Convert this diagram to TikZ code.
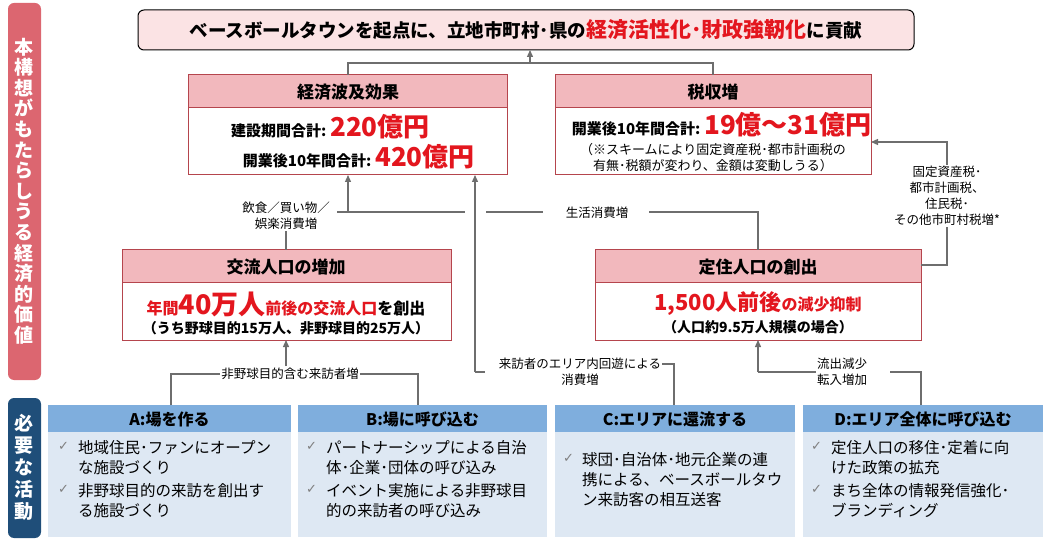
\documentclass[tikz,border=0pt]{standalone}
\usepackage{fontspec}
\setmainfont{Noto Sans CJK JP}
\newfontfamily\djv{DejaVu Sans}
\usetikzlibrary{arrows.meta}
\definecolor{redbar}{HTML}{DC6670}
\definecolor{bluebar}{HTML}{1F4E79}
\definecolor{pinkhd}{HTML}{F2B8BD}
\definecolor{pinkbd}{HTML}{B5454D}
\definecolor{toppink}{HTML}{FBE3E4}
\definecolor{bluehd}{HTML}{7FAEDD}
\definecolor{bluebd}{HTML}{DEE8F3}
\definecolor{redtxt}{HTML}{E3161E}
\definecolor{conn}{HTML}{6E6E6E}
\tikzset{
 hd/.style={draw=pinkbd,fill=pinkhd,line width=1pt},
 bd/.style={draw=pinkbd,fill=white,line width=1pt},
 con/.style={conn,line width=1.3pt},
 arr/.style={con,-{Triangle[length=7pt,width=6pt]}},
 lbl/.style={font=\fontsize{12.5}{16}\selectfont,align=center,inner sep=1pt},
 htxt/.style={font=\fontsize{17}{20}\selectfont\bfseries},
 bhd/.style={fill=bluehd},
 bbd/.style={fill=bluebd},
 item/.style={anchor=north west,align=left,inner sep=0pt,font=\fontsize{15.5}{20}\selectfont},
 chk/.style={anchor=north west,inner sep=0pt,text=gray,font=\djv\fontsize{13}{20}\selectfont},
 big/.style={font=\fontsize{26}{30}\selectfont\bfseries,text=redtxt,anchor=base west,inner sep=0},
}
\begin{document}
\begin{tikzpicture}[x=1pt,y=-1pt]
\useasboundingbox (0,0) rectangle (1053,540);
% side bars
\fill[redbar,rounded corners=6pt] (8,3) rectangle (41,380);
\node[text=white,font=\fontsize{19}{20.6}\selectfont\bfseries,align=center,inner sep=0] (s1) at (24.5,191) {本\\構\\想\\が\\も\\た\\ら\\し\\う\\る\\経\\済\\的\\価\\値};
\fill[bluebar,rounded corners=6pt] (8,398) rectangle (41,538);
\node[text=white,font=\fontsize{19}{22}\selectfont\bfseries,align=center,inner sep=0] (s2) at (24.5,467) {必\\要\\な\\活\\動};
% top box
\draw[fill=toppink,rounded corners=6pt,line width=1pt] (138,10) rectangle (914,50);
\node[font=\fontsize{18.5}{20}\selectfont\bfseries] (top) at (526,30) {ベースボールタウンを起点に、立地市町村･県の\textcolor{redtxt}{\fontsize{21}{20}\selectfont 経済活性化･財政強靭化}に貢献};
\coordinate (topb) at (530,50);
% keizai
\draw[bd] (188,108) rectangle (507,175);
\draw[hd] (188,75) rectangle (507,108);
\node[htxt] (k) at (348,92) {経済波及効果};
\node[font=\fontsize{15}{18}\selectfont\bfseries,anchor=base east] (k1) at (330,137) {建設期間合計:};
\node[big] (k1v) at (k1.base east) {220億円};
\node[font=\fontsize{15}{18}\selectfont\bfseries,anchor=base east] (k2) at (375,167) {開業後10年間合計:};
\node[big] (k2v) at (k2.base east) {420億円};
% zei
\draw[bd] (555,108) rectangle (871,175);
\draw[hd] (555,75) rectangle (871,108);
\node[htxt] (z) at (713,92) {税収増};
\node[font=\fontsize{15}{18}\selectfont\bfseries,anchor=base east] (z1) at (704,135) {開業後10年間合計:};
\node[big] (z1v) at (z1.base east) {19億～31億円};
\node[font=\fontsize{13}{16}\selectfont,align=center] (z2) at (713,158) {（※スキームにより固定資産税･都市計画税の\\有無･税額が変わり、金額は変動しうる）};
% koryu
\draw[bd] (122,283) rectangle (451,340);
\draw[hd] (122,250) rectangle (451,283);
\node[htxt] (kr) at (286,267) {交流人口の増加};
\node[font=\fontsize{16}{18}\selectfont\bfseries,text=redtxt] (kr1) at (286,304) {年間\fontsize{27}{28}\selectfont 40万人\fontsize{16}{18}\selectfont 前後の交流人口\textcolor{black}{を創出}};
\node[font=\fontsize{14}{18}\selectfont\bfseries] (kr2) at (286,328) {（うち野球目的15万人、非野球目的25万人）};
% teiju
\draw[bd] (595,283) rectangle (921,340);
\draw[hd] (595,250) rectangle (921,283);
\node[htxt] (tj) at (758,267) {定住人口の創出};
\node[font=\fontsize{16}{18}\selectfont\bfseries,text=redtxt] (tj1) at (758,304) {\fontsize{22}{24}\selectfont 1,500人前後\fontsize{16}{18}\selectfont の減少抑制};
\node[font=\fontsize{14}{18}\selectfont\bfseries] (tj2) at (758,327) {（人口約9.5万人規模の場合）};
% bottom boxes
\foreach \x/\w/\t/\n in {48/243/A:場を作る/A,298/249/B:場に呼び込む/B,555/240/C:エリアに還流する/C,803/240/D:エリア全体に呼び込む/D}{
 \fill[bbd] (\x,432) rectangle (\x+\w,537);
 \fill[bhd] (\x,405) rectangle (\x+\w,432);
 \node[font=\fontsize{16}{18}\selectfont\bfseries] (h\n) at (\x+\w/2,419) {\t};
}
\node[chk] (ca1) at (58,442) {✓};\node[item] (ia1) at (78,440) {地域住民･ファンにオープン\\な施設づくり};
\node[chk] (ca2) at (58,485) {✓};\node[item] (ia2) at (78,483) {非野球目的の来訪を創出す\\る施設づくり};
\node[chk] (cb1) at (306,442) {✓};\node[item] (ib1) at (326,440) {パートナーシップによる自治\\体･企業･団体の呼び込み};
\node[chk] (cb2) at (306,485) {✓};\node[item] (ib2) at (326,483) {イベント実施による非野球目\\的の来訪者の呼び込み};
\node[chk] (cc1) at (563,454) {✓};\node[item] (ic1) at (582,452) {球団･自治体･地元企業の連\\携による、ベースボールタウ\\ン来訪客の相互送客};
\node[chk] (cd1) at (811,442) {✓};\node[item] (id1) at (831,440) {定住人口の移住･定着に向\\けた政策の拡充};
\node[chk] (cd2) at (811,485) {✓};\node[item] (id2) at (831,483) {まち全体の情報発信強化･\\ブランディング};
% connectors to top
\coordinate (kt) at (348,75);\coordinate (zt) at (713,75);
\draw[con] (kt) |- (530,63) -| (zt);
\draw[arr] (530,63) -- (topb);
% labels
\node[lbl] (l1) at (286,216) {飲食／買い物／\\娯楽消費増};
\node[lbl] (l2) at (597,213) {生活消費増};
\node[lbl] (l3) at (580,372) {来訪者のエリア内回遊による\\消費増};
\node[lbl] (l4) at (290,374) {非野球目的含む来訪者増};
\node[lbl,align=left] (l5) at (842,372) {流出減少\\転入増加};
\node[lbl] (l6) at (947,196) {固定資産税･\\都市計画税、\\住民税･\\その他市町村税増*};
% koryu -> keizai
\draw[con] (l1.south) -- (286,250);
\draw[con] (337,212) -- (465,212);
\draw[con] (486,212) -- (543,212);
\draw[arr] (348,212) -- (348,175);
\draw[con] (649,212) -| (758,250);
% C -> keizai
\draw[arr] (475,372) -- (475,175);
\draw[con] (475,372) -- (485,372);
\draw[con] (l3.east |- 0,364) -- (674,364) -- (674,405);
% A,B -> koryu
\draw[con] (171,405) |- (l4.west);
\draw[con] (l4.east) -| (418,405);
\draw[arr] (286,366) -- (286,340);
% D -> teiju
\draw[arr] (758,372) -- (758,340);
\draw[con] (758,372) -- (l5.west |- 0,372);
\draw[con] (890,372) -| (921,405);
% teiju -> zei
\draw[con] (921,265) -| (l6.south);
\draw[arr] (l6.north) |- (871,142);
\end{tikzpicture}
\end{document}
